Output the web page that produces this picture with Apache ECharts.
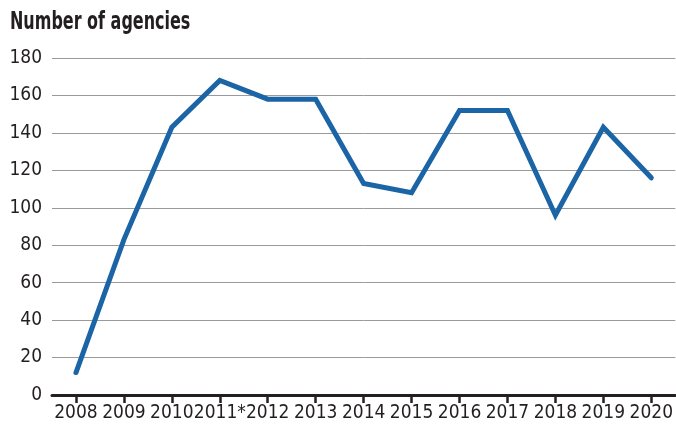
<!DOCTYPE html>
<html><head><meta charset="utf-8">
<script src="https://cdn.jsdelivr.net/npm/echarts@6/dist/echarts.min.js"></script>
<style>html,body{margin:0;padding:0;background:#fff}#c{width:676px;height:427px}</style>
</head><body><div id="c"></div>
<script>
var categories = ['2008','2009','2010','2011*','2012','2013','2014','2015','2016','2017','2018','2019','2020'];
var agencies = [12, 83, 143, 168, 158, 158, 113, 108, 152, 152, 96, 143, 116];
var yTicks = {min: 0, max: 180, interval: 20};
var titleText = 'Number of agencies';
var FONT = '"Liberation Sans Narrow","DejaVu Sans Condensed",sans-serif';
var chart = echarts.init(document.getElementById('c'));
chart.setOption({
  animation: false,
  graphic: [{type: 'text', left: 10, top: 11, scaleX: 0.74,
    style: {text: titleText, font: 'bold 24px ' + FONT, fill: '#231f20'}}],
  grid: {left: 52, right: 0, top: 58, bottom: 32, containLabel: false},
  xAxis: {type: 'category', data: categories, boundaryGap: true,
    axisLine: {lineStyle: {color: '#231f20', width: 3}},
    axisTick: {show: true, alignWithLabel: true, length: 8, lineStyle: {color: '#231f20', width: 2.5}},
    axisLabel: {fontFamily: FONT, fontSize: 19, color: '#231f20', margin: 9, interval: 0}},
  yAxis: {type: 'value', min: yTicks.min, max: yTicks.max, interval: yTicks.interval,
    axisLine: {show: false}, axisTick: {show: false},
    splitLine: {lineStyle: {color: '#9a9a9a', width: 1}},
    axisLabel: {fontFamily: FONT, fontSize: 19, color: '#231f20', margin: 10}},
  series: [{type: 'line', data: agencies, symbol: 'none',
    lineStyle: {color: '#1b64a6', width: 5, cap: 'round', join: 'miter'}}]
});
</script></body></html>
